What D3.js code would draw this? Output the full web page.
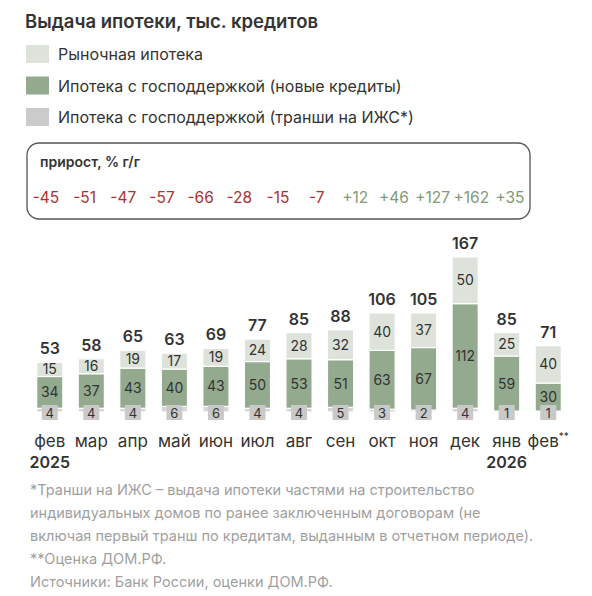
<!DOCTYPE html>
<html lang="ru">
<head>
<meta charset="utf-8">
<script src="https://cdn.jsdelivr.net/npm/d3@7/dist/d3.min.js"></script>
<style>
  body { margin: 0; background: #fff; }
  svg { display: block; font-family: 'Inter', 'Noto Sans', sans-serif; }
</style>
</head>
<body>
<svg id="chart" width="592" height="596"></svg>
<script>
const months = ['фев', 'мар', 'апр', 'май', 'июн', 'июл', 'авг', 'сен', 'окт', 'ноя', 'дек', 'янв', 'фев'];
const years = ['2025', '', '', '', '', '', '', '', '', '', '', '2026', ''];
const tranches = [4, 4, 4, 6, 6, 4, 4, 5, 3, 2, 4, 1, 1];
const govNew = [34, 37, 43, 40, 43, 50, 53, 51, 63, 67, 112, 59, 30];
const market = [15, 16, 19, 17, 19, 24, 28, 32, 40, 37, 50, 25, 40];
const totals = [53, 58, 65, 63, 69, 77, 85, 88, 106, 105, 167, 85, 71];
const growth = [-45, -51, -47, -57, -66, -28, -15, -7, 12, 46, 127, 162, 35];

const legendItems = [
  { label: 'Рыночная ипотека', color: '#dde2da' },
  { label: 'Ипотека с господдержкой (новые кредиты)', color: '#94aa8f' },
  { label: 'Ипотека с господдержкой (транши на ИЖС*)', color: '#cbcbcb' }
];

const footnotes = [
  '*Транши на ИЖС – выдача ипотеки частями на строительство',
  'индивидуальных домов по ранее заключенным договорам (не',
  'включая первый транш по кредитам, выданным в отчетном периоде).',
  '**Оценка ДОМ.РФ.',
  'Источники: Банк России, оценки ДОМ.РФ.'
];

const svg = d3.select('#chart');
const textColor = '#333';

function drawHeader() {
  svg.append('text')
    .attr('x', 25)
    .attr('y', 28)
    .attr('font-size', 18.5)
    .attr('font-weight', 600)
    .attr('fill', textColor)
    .text('Выдача ипотеки, тыс. кредитов');

  const legend = svg.append('g').attr('transform', 'translate(26, 45)');
  legend.selectAll('rect')
    .data(legendItems)
    .join('rect')
    .attr('x', 0)
    .attr('y', (_, i) => i * 31.5)
    .attr('width', 23)
    .attr('height', 18)
    .attr('fill', (d) => d.color);

  legend.selectAll('text')
    .data(legendItems)
    .join('text')
    .attr('x', 32)
    .attr('y', (_, i) => i * 31.5 + 15)
    .attr('font-size', 16)
    .attr('fill', textColor)
    .text((d) => d.label);
}

function drawGrowth() {
  svg.append('rect')
    .attr('x', 27)
    .attr('y', 143)
    .attr('width', 503)
    .attr('height', 76)
    .attr('rx', 12)
    .attr('fill', 'none')
    .attr('stroke', '#555')
    .attr('stroke-width', 1.3);

  svg.append('text')
    .attr('x', 40)
    .attr('y', 167)
    .attr('font-size', 14)
    .attr('font-weight', 600)
    .attr('fill', textColor)
    .text('прирост, % г/г');

  const gx = d3.scalePoint()
    .domain(d3.range(growth.length))
    .range([46, 510]);

  svg.append('g')
    .selectAll('text')
    .data(growth)
    .join('text')
    .attr('x', (_, i) => gx(i))
    .attr('y', 203)
    .attr('text-anchor', 'middle')
    .attr('font-size', 15.5)
    .attr('fill', (d) => (d < 0 ? '#a8342f' : '#7f9a77'))
    .text((d) => (d > 0 ? `+${d}` : `${d}`));
}

function drawBars() {
  const rows = months.map((m, i) => ({
    idx: i,
    tranches: tranches[i],
    govNew: govNew[i],
    market: market[i]
  }));

  const x = d3.scaleBand()
    .domain(d3.range(months.length))
    .range([29, 569])
    .paddingInner(0.37)
    .paddingOuter(0.185);

  const y = d3.scaleLinear()
    .domain([0, d3.max(totals)])
    .range([412, 256]);

  const stack = d3.stack().keys(['tranches', 'govNew', 'market']);
  const series = stack(rows);
  const colors = { tranches: '#d6d6d6', govNew: '#94aa8f', market: '#dde2da' };

  const layers = svg.append('g')
    .selectAll('g')
    .data(series)
    .join('g')
    .attr('fill', (s) => colors[s.key]);

  layers.selectAll('rect')
    .data((s) => s)
    .join('rect')
    .attr('x', (d) => x(d.data.idx))
    .attr('y', (d) => y(d[1]))
    .attr('width', x.bandwidth())
    .attr('height', (d) => y(d[0]) - y(d[1]))
    .attr('stroke', '#fff')
    .attr('stroke-width', 1.2);

  // labels inside the two upper segments
  series.slice(1).forEach((s) => {
    svg.append('g')
      .selectAll('text')
      .data(s)
      .join('text')
      .attr('x', (d) => x(d.data.idx) + x.bandwidth() / 2)
      .attr('y', (d) => (y(d[0]) + y(d[1])) / 2 + 5)
      .attr('text-anchor', 'middle')
      .attr('font-size', 14)
      .attr('fill', textColor)
      .text((d) => d[1] - d[0]);
  });

  // small boxes for the tranche values at the base
  const base = svg.append('g');
  base.selectAll('rect')
    .data(tranches)
    .join('rect')
    .attr('x', (_, i) => x(i) + x.bandwidth() / 2 - 8)
    .attr('y', y(0) - 7)
    .attr('width', 16)
    .attr('height', 15)
    .attr('fill', '#c9c9c9');

  base.selectAll('text')
    .data(tranches)
    .join('text')
    .attr('x', (_, i) => x(i) + x.bandwidth() / 2)
    .attr('y', y(0) + 5.5)
    .attr('text-anchor', 'middle')
    .attr('font-size', 13)
    .attr('fill', textColor)
    .text((d) => d);

  svg.append('g')
    .selectAll('text')
    .data(totals)
    .join('text')
    .attr('x', (_, i) => x(i) + x.bandwidth() / 2)
    .attr('y', (d, i) => y(tranches[i] + govNew[i] + market[i]) - 8)
    .attr('text-anchor', 'middle')
    .attr('font-size', 16)
    .attr('font-weight', 600)
    .attr('fill', textColor)
    .text((d) => d);

  const axis = svg.append('g');
  const monthText = axis.selectAll('text.month')
    .data(months)
    .join('text')
    .attr('class', 'month')
    .attr('x', (_, i) => x(i) + x.bandwidth() / 2)
    .attr('y', 447)
    .attr('text-anchor', 'middle')
    .attr('font-size', 17)
    .attr('fill', textColor)
    .text((d) => d);

  monthText.filter((_, i) => i === months.length - 1)
    .append('tspan')
    .attr('dy', -7)
    .attr('font-size', 10)
    .text('**');

  axis.selectAll('text.year')
    .data(years)
    .join('text')
    .attr('class', 'year')
    .attr('x', (_, i) => x(i) + x.bandwidth() / 2)
    .attr('y', 468)
    .attr('text-anchor', 'middle')
    .attr('font-size', 16)
    .attr('font-weight', 600)
    .attr('fill', textColor)
    .text((d) => d);
}

function drawFootnotes() {
  svg.append('g')
    .selectAll('text')
    .data(footnotes)
    .join('text')
    .attr('x', 30)
    .attr('y', (_, i) => 495 + i * 23)
    .attr('font-size', 14.5)
    .attr('fill', '#9f9f9f')
    .text((d) => d);
}

drawHeader();
drawGrowth();
drawBars();
drawFootnotes();
</script>
</body>
</html>
